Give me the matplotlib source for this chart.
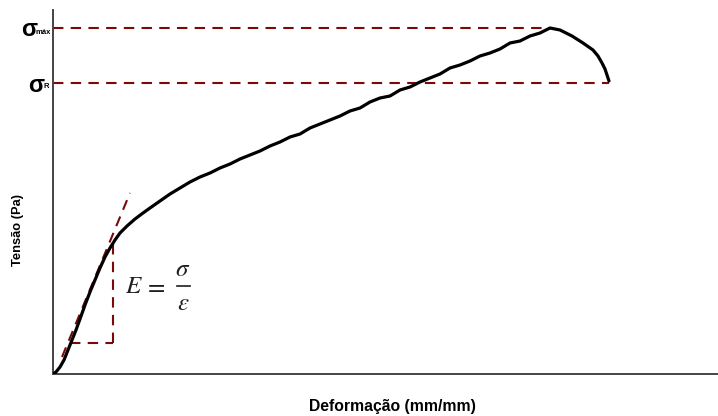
import matplotlib
matplotlib.use("Agg")
import matplotlib.pyplot as plt

plt.rcParams['font.family'] = ['Liberation Sans', 'DejaVu Sans']
plt.rcParams['mathtext.fontset'] = 'stix'

# Stress-strain curve (arbitrary units)
strain = [0, 3, 7, 11, 15, 19, 23, 27, 32, 37, 42, 47, 52, 57, 62, 67, 74, 82,
          90, 97, 107, 117, 127, 137, 147, 157, 167, 177, 187, 197, 207, 217,
          227, 237, 247, 257, 267, 277, 287, 297, 307, 317, 327, 337, 347, 357,
          367, 377, 387, 397, 407, 417, 427, 437, 447, 457, 467, 477, 487, 497,
          507, 519, 530, 540, 545, 549, 552, 554, 556]
stress = [0, 2, 7, 14, 24, 34, 44, 55, 69, 82, 94, 106, 117, 126, 134, 141,
          148, 155, 161, 166, 173, 180, 186, 192, 197, 201, 206, 210, 215, 219,
          223, 228, 232, 237, 240, 246, 250, 254, 258, 263, 266, 272, 276, 278,
          284, 287, 292, 296, 300, 306, 309, 313, 318, 321, 325, 331, 333, 338,
          341, 346, 344, 338, 331, 324, 318, 311, 305, 299, 293]

sigma_max = 346
sigma_R = 291
strain_max = 497
strain_R = 556

# Young's modulus construction
tangent_x = [9, 77]
tangent_y = [17, 181]
tri_x0, tri_x1 = 17, 60
tri_y0, tri_y1 = 31, 131

fig = plt.figure(figsize=(7.18, 4.16), dpi=100)
ax = fig.add_axes([53/718, 42/416, 665/718, 364/416])
ax.set_xlim(0, 665)
ax.set_ylim(0, 364)

red = '#7a0a0a'
dash = (0, (5, 3.5))
ax.plot(strain, stress, color='black', lw=2.3, solid_capstyle='round',
        solid_joinstyle='round', zorder=3)
ax.plot([0, strain_max], [sigma_max, sigma_max], color=red, lw=1.5, linestyle=dash)
ax.plot([0, strain_R], [sigma_R, sigma_R], color=red, lw=1.5, linestyle=dash)
ax.plot(tangent_x, tangent_y, color=red, lw=1.5, linestyle=dash)
ax.plot([tri_x0, tri_x1], [tri_y0, tri_y0], color=red, lw=1.5, linestyle=dash)
ax.plot([tri_x1, tri_x1], [tri_y0, tri_y1], color=red, lw=1.5, linestyle=dash)

# E = sigma / epsilon (built as separate pieces, pixel-like axes units)
fc = '#1e1e1e'
ax.text(81, 88, r'$E$', fontsize=18, color=fc, ha='center', va='center')
ax.text(102, 88, r'$=$', fontsize=18, color=fc, ha='center', va='center')
ax.text(130, 105, r'$\sigma$', fontsize=18, color=fc, ha='center', va='center')
ax.plot([124, 137], [88, 88], color=fc, lw=1.2)
ax.text(130, 71, r'$\varepsilon$', fontsize=18, color=fc, ha='center', va='center')

for s in ['top', 'right']:
    ax.spines[s].set_visible(False)
for s in ['left', 'bottom']:
    ax.spines[s].set_color('#444444')
    ax.spines[s].set_linewidth(1.4)
ax.set_xticks([])
ax.set_yticks([])

# sigma labels
fig.text(37/718, 1 - 30/416, 'σ', fontsize=17, fontweight='bold', ha='right', va='center')
fig.text(36/718, 1 - 33/416, 'máx', fontsize=5.5, fontweight='bold', ha='left', va='center')
fig.text(44/718, 1 - 85/416, 'σ', fontsize=17, fontweight='bold', ha='right', va='center')
fig.text(44/718, 1 - 87/416, 'R', fontsize=5.5, fontweight='bold', ha='left', va='center')

fig.text(18/718, 1 - 230/416, 'Tensão (Pa)', fontsize=9.3, fontweight='bold',
         rotation=90, ha='center', va='center')
fig.text(392/718, 1 - 407/416, 'Deformação (mm/mm)', fontsize=11.3, fontweight='bold',
         ha='center', va='center')

fig.savefig('out.png', dpi=100)
